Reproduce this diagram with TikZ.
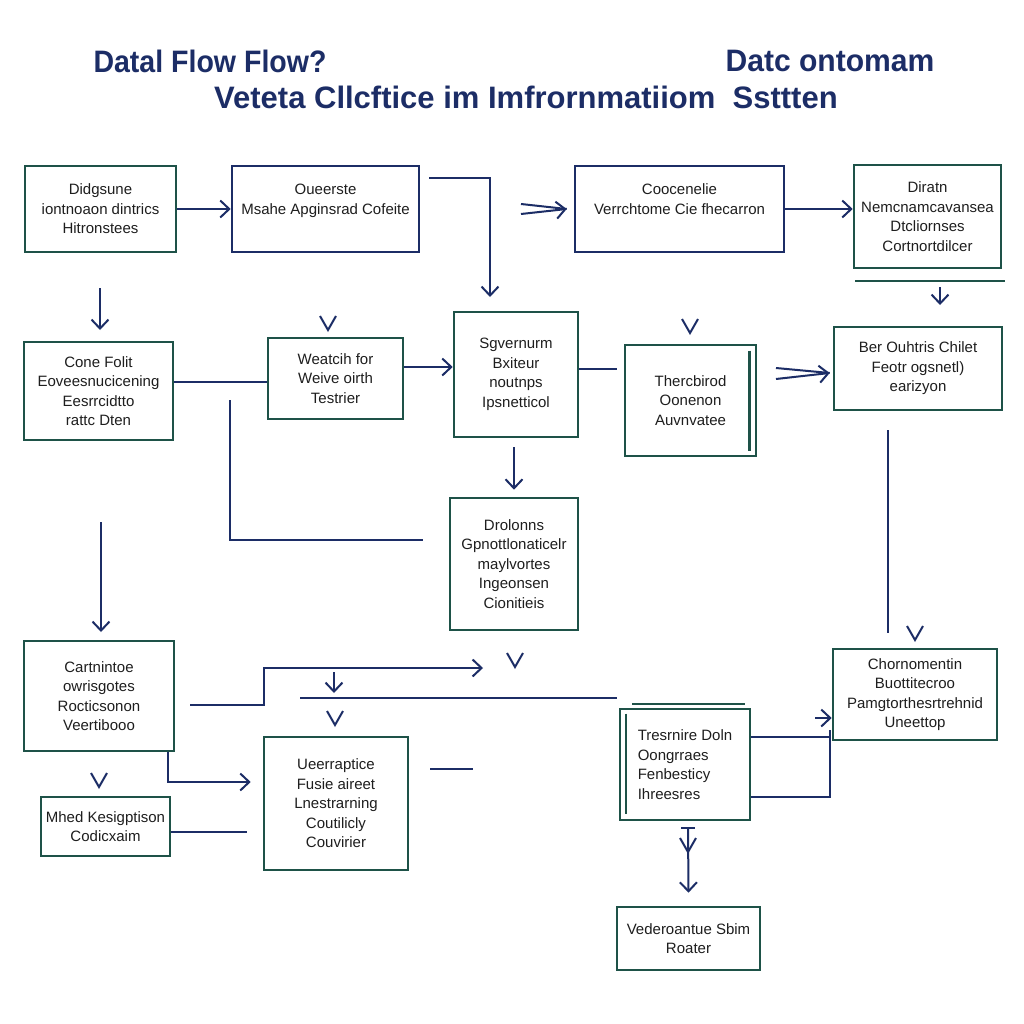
\documentclass[tikz,border=0pt]{standalone}
\usepackage{fontspec}
\setmainfont{Liberation Sans}
\usetikzlibrary{arrows.meta}
\definecolor{navy}{HTML}{1C2D66}
\definecolor{boxgreen}{HTML}{1E5248}
\definecolor{ink}{HTML}{1E1E1E}
\newcommand\chevron[2]{\draw[link,line width=2pt] (#1-8,#2-14) -- (#1,#2) -- (#1+8,#2-14);}
\begin{document}
\begin{tikzpicture}[x=1pt,y=-1pt,
  box/.style={draw=boxgreen, line width=2.6pt, fill=white, align=center, text=ink,
    font=\fontsize{15}{19.5}\selectfont, inner sep=0pt},
  navybox/.style={box, draw=navy},
  link/.style={draw=navy, line width=2.8pt},
  arr/.style={link, -{Straight Barb[length=9pt,width=17pt,line width=2pt]}},
  title/.style={text=navy, font=\fontsize{31}{31}\selectfont\bfseries, inner sep=0pt}]
\useasboundingbox[fill=white] (0,0) rectangle (1023,1024);

% heading
\node[title] (t1) at (210,61) {\scalebox{0.92}[1]{Datal Flow Flow?}};
\node[title] (t2) at (830,61) {\scalebox{0.97}[1]{Datc ontomam}};
\node[title] (t3) at (526,97) {\scalebox{1.0}[1]{Veteta Cllcftice im Imfrornmatiiom\ \ Ssttten}};

% boxes
\node[box, minimum width=151, minimum height=86] (b1) at (100.5,209) {Didgsune\\iontnoaon dintrics\\Hitronstees};
\node[navybox, minimum width=187, minimum height=86] (b2) at (325.5,209) {Oueerste\\Msahe Apginsrad Cofeite\\\mbox{}};
\node[navybox, minimum width=209, minimum height=86] (b3) at (679.5,209) {Coocenelie\\Verrchtome Cie fhecarron\\\mbox{}};
\node[box, minimum width=147, minimum height=103] (b4) at (927.5,216.5) {Diratn\\Nemcnamcavansea\\Dtcliornses\\Cortnortdilcer};
\node[box, minimum width=149, minimum height=98] (b5) at (98.5,391) {Cone Folit\\Eoveesnucicening\\Eesrrcidtto\\rattc Dten};
\node[box, minimum width=135, minimum height=81] (b6) at (335.5,378.5) {Weatcih for\\Weive oirth\\Testrier};
\node[box, minimum width=124, minimum height=125] (b7) at (516,374.5) {Sgvernurm\\Bxiteur\\noutnps\\Ipsnetticol};
\node[box, minimum width=131, minimum height=111] (b8) at (690.5,400.5) {Thercbirod\\Oonenon\\Auvnvatee};
\node[box, minimum width=168, minimum height=83] (b9) at (918,368.5) {Ber Ouhtris Chilet\\Feotr ogsnetl)\\earizyon};
\node[box, minimum width=128, minimum height=132] (b10) at (514,564) {Drolonns\\Gpnottlonaticelr\\maylvortes\\Ingeonsen\\Cionitieis};
\node[box, minimum width=150, minimum height=110] (b11) at (99,696) {Cartnintoe\\owrisgotes\\Rocticsonon\\Veertibooo};
\node[box, minimum width=144, minimum height=133] (b12) at (336,803.5) {Ueerraptice\\Fusie aireet\\Lnestrarning\\Coutilicly\\Couvirier};
\node[box, minimum width=129, minimum height=59] (b13) at (105.5,826.5) {Mhed Kesigptison\\Codicxaim};
\node[box, minimum width=130, minimum height=111, align=left] (b14) at (685,764.5) {Tresrnire Doln\\Oongrraes\\Fenbesticy\\Ihreesres};
\node[box, minimum width=164, minimum height=91] (b15) at (915,694.5) {Chornomentin\\Buottitecroo\\Pamgtorthesrtrehnid\\Uneettop};
\node[box, minimum width=143, minimum height=63] (b16) at (688.5,938.5) {Vederoantue Sbim\\Roater};

% inner rules of the double-edged boxes
\draw[draw=boxgreen, line width=2.4pt] ([xshift=-8pt,yshift=-7pt]b8.north east) -- ([xshift=-8pt,yshift=6pt]b8.south east);
\draw[draw=boxgreen, line width=2.4pt] ([xshift=7pt,yshift=-6pt]b14.north west) -- ([xshift=7pt,yshift=7pt]b14.south west);

% top row
\draw[arr] (b1.east) -- (b2.west);
\coordinate (d1) at (490,297);
\draw[arr] ([xshift=9pt,yshift=31pt]b2.east) -| (d1);
\draw[link,line width=2pt] (521,204) -- ([xshift=-7pt]b3.west);
\draw[arr,line width=2pt] (521,214) -- ([xshift=-7pt]b3.west);
\draw[arr] (b3.east) -- (b4.west |- b3.east);
\draw[draw=boxgreen, line width=2.4pt] (855,281) -- (1005,281);
\draw[arr,line width=2pt] (940,287) -- (940,305);

% second row
\coordinate (a5) at (100,288);
\draw[arr,line width=2pt] (a5) -- (100,330);
\chevron{328}{330}
\chevron{690}{333}
\draw[link] (b5.east |- 0,382) -- (b6.west |- 0,382);
\draw[arr] (b6.east |- 0,367) -- (b7.west |- 0,367);
\draw[link] (b7.east |- 0,369) -- (617,369);
\draw[link,line width=2pt] (776,368) -- ([xshift=-3pt]b9.west |- 0,373);
\draw[arr,line width=2pt] (776,379) -- ([xshift=-3pt]b9.west |- 0,373);
\draw[link] (230,400) |- (423,540);
\draw[arr] (514,447) -- ([yshift=7pt]b10.north);
\draw[link] (888,430) -- (888,633);
\chevron{915}{640}

% lower part
\coordinate (a11) at (101,522);
\draw[arr] (a11) -- (101,632);
\chevron{515}{667}
\draw[arr] (190,705) -- (264,705) -- (264,668) -- (483,668);
\draw[link] (300,698) -- (617,698);
\draw[arr,line width=2pt] (334,672) -- (334,693);
\chevron{335}{725}
\draw[arr] (b11.south -| 168,0) |- ([xshift=-12pt]b12.west |- 0,782);
\chevron{99}{787}
\draw[link] (b13.east |- 0,832) -- (247,832);
\draw[link] (430,769) -- (473,769);
\draw[draw=boxgreen, line width=2.4pt] (632,704) -- (745,704);
\draw[link] (b14.east |- 0,737) -- (830,737);
\draw[link] (b14.east |- 0,797) -- (830,797) -- (830,730);
\draw[arr,line width=2pt] (815,718) -- (b15.west |- 0,718);
\draw[link,line width=2pt] (681,828) -- (695,828);
\draw[arr,line width=2pt] (688,828) -- ([yshift=13pt]b16.north);
\chevron{688}{852}
\end{tikzpicture}
\end{document}
